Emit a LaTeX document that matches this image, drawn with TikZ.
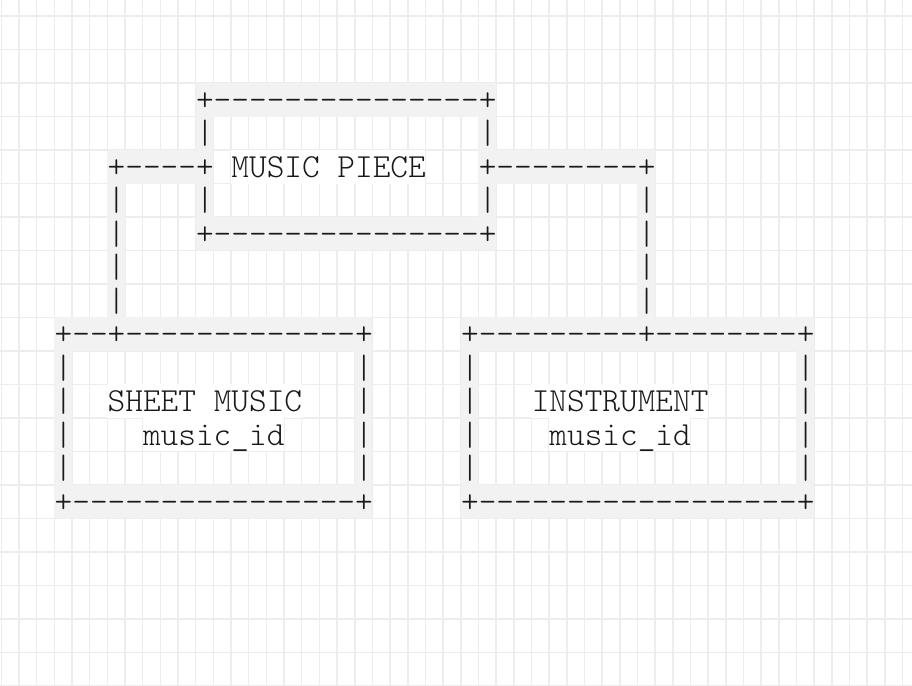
\documentclass[tikz,border=0pt]{standalone}
\usepackage{fontspec}
\setmonofont{lmmonolt10-regular.otf}
\usepackage{tikz}

\tikzset{
  gridline/.style={draw=black!7, line width=0.8pt},
  cellshade/.style={fill=black!5},
  cellblank/.style={fill=white},
  asciitxt/.style={inner sep=0pt, anchor=base west, text=black!90,
    font=\ttfamily\fontsize{16.83pt}{18pt}\selectfont}
}
% one row of characters, placed in its cell: name, column, row, text
\newcommand{\asciirow}[4]{\node[asciitxt] (#1) at (#2,{-#3-0.81}) {#4};}

\begin{document}
\begin{tikzpicture}[x=8.835pt, y=16.75pt]
% The page, grid of one cell per character
\fill[white] (-0.074,0.478) rectangle (51.54,-20.0);
\useasboundingbox (-0.074,0.478) rectangle (51.54,-20.0);
\draw[gridline, step=1] (-0.074,-20.0) grid (51.54,0.478);
% Shade the cells that hold a border character
\fill[cellshade] (11,-2) rectangle (28,-3);
\fill[cellshade] (11,-3) rectangle (12,-6);
\fill[cellshade] (27,-3) rectangle (28,-6);
\fill[cellshade] (11,-6) rectangle (28,-7);
\fill[cellshade] (6,-4) rectangle (12,-5);
\fill[cellshade] (27,-4) rectangle (37,-5);
\fill[cellshade] (6,-5) rectangle (7,-9);
\fill[cellshade] (36,-5) rectangle (37,-9);
\fill[cellshade] (3,-9) rectangle (21,-10);
\fill[cellshade] (3,-14) rectangle (21,-15);
\fill[cellshade] (3,-10) rectangle (4,-14);
\fill[cellshade] (20,-10) rectangle (21,-14);
\fill[cellshade] (26,-9) rectangle (46,-10);
\fill[cellshade] (26,-14) rectangle (46,-15);
\fill[cellshade] (26,-10) rectangle (27,-14);
\fill[cellshade] (45,-10) rectangle (46,-14);
% The cells of the labels are blank
\fill[cellblank] (13,-4) rectangle (24,-5);
\fill[cellblank] (6,-11) rectangle (17,-12);
\fill[cellblank] (8,-12) rectangle (16,-13);
\fill[cellblank] (30,-11) rectangle (40,-12);
\fill[cellblank] (31,-12) rectangle (39,-13);
% MUSIC PIECE box
\asciirow{pieceTop}{11}{2}{+---------------+}
\asciirow{pieceL1}{11}{3}{|}
\asciirow{pieceR1}{27}{3}{|}
\asciirow{pieceLbl}{13}{4}{MUSIC PIECE}
\asciirow{pieceL2}{11}{5}{|}
\asciirow{pieceR2}{27}{5}{|}
\asciirow{pieceBot}{11}{6}{+---------------+}
% links down to the two other boxes
\asciirow{linkSheetTop}{6}{4}{+----+}
\asciirow{linkInstTop}{27}{4}{+--------+}
\asciirow{linkSheet5}{6}{5}{|}
\asciirow{linkSheet6}{6}{6}{|}
\asciirow{linkSheet7}{6}{7}{|}
\asciirow{linkSheet8}{6}{8}{|}
\asciirow{linkInst5}{36}{5}{|}
\asciirow{linkInst6}{36}{6}{|}
\asciirow{linkInst7}{36}{7}{|}
\asciirow{linkInst8}{36}{8}{|}
% SHEET MUSIC box
\asciirow{sheetTop}{3}{9}{+--+-------------+}
\asciirow{sheetL10}{3}{10}{|}
\asciirow{sheetR10}{20}{10}{|}
\asciirow{sheetL11}{3}{11}{|}
\asciirow{sheetR11}{20}{11}{|}
\asciirow{sheetL12}{3}{12}{|}
\asciirow{sheetR12}{20}{12}{|}
\asciirow{sheetL13}{3}{13}{|}
\asciirow{sheetR13}{20}{13}{|}
\asciirow{sheetLbl}{6}{11}{SHEET MUSIC}
\asciirow{sheetKey}{8}{12}{music\_id}
\asciirow{sheetBot}{3}{14}{+----------------+}
% INSTRUMENT box
\asciirow{instTop}{26}{9}{+---------+--------+}
\asciirow{instL10}{26}{10}{|}
\asciirow{instR10}{45}{10}{|}
\asciirow{instL11}{26}{11}{|}
\asciirow{instR11}{45}{11}{|}
\asciirow{instL12}{26}{12}{|}
\asciirow{instR12}{45}{12}{|}
\asciirow{instL13}{26}{13}{|}
\asciirow{instR13}{45}{13}{|}
\asciirow{instLbl}{30}{11}{INSTRUMENT}
\asciirow{instKey}{31}{12}{music\_id}
\asciirow{instBot}{26}{14}{+------------------+}
\end{tikzpicture}
\end{document}
